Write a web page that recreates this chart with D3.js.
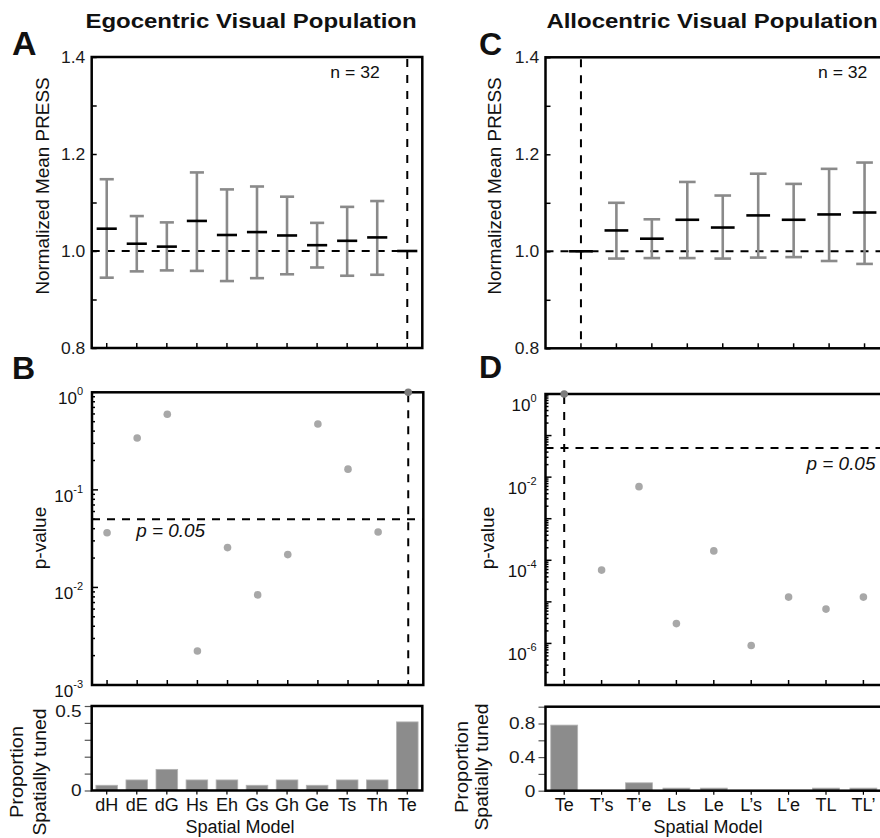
<!DOCTYPE html>
<html><head><meta charset="utf-8">
<script src="https://cdn.jsdelivr.net/npm/d3@7"></script>
<style>body{margin:0;background:#fff}</style>
</head><body>
<svg id="c" width="880" height="838" style="display:block"></svg>
<script>
// ---------- data ----------
const egoModels = ["dH","dE","dG","Hs","Eh","Gs","Gh","Ge","Ts","Th","Te"];
const egoMean = [1.046,1.015,1.009,1.062,1.033,1.039,1.032,1.012,1.021,1.028,1.000];
const egoLow  = [0.945,0.958,0.960,0.959,0.938,0.944,0.952,0.966,0.949,0.951,null];
const egoHigh = [1.148,1.072,1.059,1.162,1.127,1.133,1.112,1.058,1.091,1.103,null];
const egoP    = [0.0364,0.34,0.595,0.00223,0.0256,0.00838,0.0217,0.473,0.163,0.037,1.0];
const egoProp = [0.031,0.0625,0.125,0.0625,0.0625,0.031,0.0625,0.031,0.0625,0.0625,0.406];

const alloModels = ["Te","T\u2019s","T\u2019e","Ls","Le","L\u2019s","L\u2019e","TL","TL\u2019"];
const alloMean = [1.000,1.043,1.026,1.065,1.049,1.074,1.065,1.076,1.080];
const alloLow  = [null,0.985,0.986,0.986,0.985,0.987,0.988,0.980,0.974];
const alloHigh = [null,1.100,1.066,1.143,1.115,1.160,1.139,1.170,1.183];
const alloP    = [1.0,5.8e-5,5.9e-3,3.0e-6,1.68e-4,8.9e-7,1.3e-5,6.7e-6,1.3e-5];
const alloProp = [0.781,0,0.094,0.031,0.031,0,0,0.031,0.031];

const refModel = "Te";
const nCells = 32;
const pThreshold = 0.05;
const pressTicks = [0.8,0.9,1.0,1.1,1.2,1.3,1.4];
const pressLabels = [0.8,1.0,1.2,1.4];
const egoPLabels = [1e-3,1e-2,1e-1,1];
const alloPLabels = [1e-6,1e-4,1e-2,1];
const egoPropTicks = [0,0.1,0.2,0.3,0.4,0.5];
const egoPropLabels = [0,0.5];
const alloPropTicks = [0,0.2,0.4,0.6,0.8,1.0];
const alloPropLabels = [0,0.4,0.8];

// ---------- helpers ----------
const FONT = '"Liberation Sans", Arial, Helvetica, sans-serif';
const svg = d3.select("#c");
const GRAY = "#8a8a8a";

function txt(g, x, y, s, o = {}) {
  return g.append("text")
    .attr("transform", `translate(${x},${y}) rotate(${o.rot||0}) scale(${o.sx||1},1)`)
    .attr("text-anchor", o.anchor || "start")
    .style("font-family", FONT)
    .style("font-size", (o.size||16) + "px")
    .style("font-weight", o.weight || "normal")
    .style("font-style", o.italic ? "italic" : "normal")
    .attr("fill", o.fill || "#111")
    .text(s);
}
function frame(g, x, y) {
  const [x0, x1] = x.range(), [yb, yt] = y.range();
  g.append("rect").attr("x", x0).attr("y", yt).attr("width", x1 - x0).attr("height", yb - yt)
    .attr("fill", "none").attr("stroke", "#000").attr("stroke-width", 2.5);
}
function xTicks(g, x, y, n, len) {
  const yb = y.range()[0];
  g.selectAll(null).data(d3.range(1, n + 1)).join("line")
    .attr("x1", d => x(d)).attr("x2", d => x(d))
    .attr("y1", yb).attr("y2", yb - len)
    .attr("stroke", "#000").attr("stroke-width", 1.5);
}
function hDash(g, x, y, v) {
  g.append("line").attr("x1", x.range()[0]).attr("x2", x.range()[1])
    .attr("y1", y(v)).attr("y2", y(v))
    .attr("stroke", "#000").attr("stroke-width", 2).attr("stroke-dasharray", "8,7");
}
function vDash(g, x, y, i) {
  g.append("line").attr("x1", x(i)).attr("x2", x(i))
    .attr("y1", y.range()[1] + 2).attr("y2", y.range()[0])
    .attr("stroke", "#000").attr("stroke-width", 2).attr("stroke-dasharray", "8,8");
}
function styleAxisText(sel, size, sx) {
  sel.selectAll("text").style("font-family", FONT).style("font-size", size + "px")
    .attr("fill", "#1a1a1a").attr("transform", `scale(${sx},1)`);
}

// ---------- PRESS panels ----------
function pressPanel(models, mean, low, high, x, y, nRight) {
  const g = svg.append("g");
  const step = x(2) - x(1);
  const ri = models.indexOf(refModel) + 1;
  hDash(g, x, y, 1.0);
  vDash(g, x, y, ri);
  const idx = d3.range(models.length).filter(i => low[i] !== null);
  g.selectAll(null).data(idx).join("line")
    .attr("x1", i => x(i + 1)).attr("x2", i => x(i + 1))
    .attr("y1", i => y(low[i])).attr("y2", i => y(high[i]))
    .attr("stroke", GRAY).attr("stroke-width", 2.6);
  [low, high].forEach(arr => {
    g.selectAll(null).data(idx).join("line")
      .attr("x1", i => x(i + 1) - step * 0.235).attr("x2", i => x(i + 1) + step * 0.235)
      .attr("y1", i => y(arr[i])).attr("y2", i => y(arr[i]))
      .attr("stroke", GRAY).attr("stroke-width", 2.6);
  });
  g.selectAll(null).data(mean).join("line")
    .attr("x1", (d, i) => x(i + 1) - step * 0.335).attr("x2", (d, i) => x(i + 1) + step * 0.335)
    .attr("y1", d => y(d)).attr("y2", d => y(d))
    .attr("stroke", "#000").attr("stroke-width", 2.6);
  const ax = g.append("g").attr("transform", `translate(${x.range()[0]},0)`)
    .call(d3.axisLeft(y).tickValues(pressTicks).tickSize(-5).tickPadding(6)
      .tickFormat(d => pressLabels.includes(d) ? d3.format(".1f")(d) : ""));
  ax.select(".domain").remove();
  ax.selectAll("line").attr("stroke-width", 1.5);
  styleAxisText(ax, 16.5, 1.06);
  xTicks(g, x, y, models.length, 5);
  frame(g, x, y);
  txt(g, nRight, y(1.4) + 21, `n = ${nCells}`, { anchor: "end", size: 16, sx: 1.1 });
  return g;
}

// ---------- p-value panels ----------
function pPanel(models, p, x, y, labels, labelDy, pLabel) {
  const g = svg.append("g");
  const ri = models.indexOf(refModel) + 1;
  hDash(g, x, y, pThreshold);
  vDash(g, x, y, ri);
  const x0 = x.range()[0];
  const ticks = y.ticks();
  g.selectAll(null).data(ticks).join("line")
    .attr("x1", x0).attr("x2", d => x0 + (Math.abs(Math.log10(d) - Math.round(Math.log10(d))) < 1e-9 ? 6 : 3))
    .attr("y1", d => y(d)).attr("y2", d => y(d))
    .attr("stroke", "#000").attr("stroke-width", 1.5);
  labels.forEach(v => {
    const t = txt(g, x0 - 9, y(v) + labelDy, "", { anchor: "end", size: 17, sx: 1.0 });
    t.append("tspan").text("10");
    t.append("tspan").attr("dy", -9).style("font-size", "11px").text(String(Math.round(Math.log10(v))));
  });
  xTicks(g, x, y, models.length, 5);
  frame(g, x, y);
  g.selectAll(null).data(p).join("circle")
    .attr("cx", (d, i) => x(i + 1)).attr("cy", d => y(d)).attr("r", 3.8)
    .attr("fill", (d, i) => models[i] === refModel ? "#7c7c7c" : "#a8a8a8");
  pLabel(g);
  return g;
}

// ---------- proportion panels ----------
function propPanel(models, prop, x, y, ticks, labels, fmt) {
  const g = svg.append("g");
  const step = x(2) - x(1);
  const bw = step * 0.72;
  g.selectAll(null).data(prop).join("rect")
    .attr("x", (d, i) => x(i + 1) - bw / 2).attr("width", bw)
    .attr("y", d => y(d)).attr("height", d => y(0) - y(d))
    .attr("fill", "#8c8c8c").attr("stroke", "#b4b4b4").attr("stroke-width", 0.8);
  const top = y.domain()[1];
  const ax = g.append("g").attr("transform", `translate(${x.range()[0]},0)`)
    .call(d3.axisLeft(y).tickValues(ticks).tickSize(7).tickPadding(2)
      .tickFormat(d => labels.includes(d) ? fmt(d) : ""));
  ax.select(".domain").remove();
  ax.selectAll("line").attr("stroke", "#555").attr("stroke-width", 1.2);
  styleAxisText(ax, 17, 1.12);
  ax.selectAll(".tick").filter(d => d === top).select("text").attr("y", 5);
  const yb = y.range()[0];
  g.selectAll(null).data(d3.range(1, models.length + 1)).join("line")
    .attr("x1", d => x(d)).attr("x2", d => x(d)).attr("y1", yb).attr("y2", yb + 4)
    .attr("stroke", "#000").attr("stroke-width", 1.2);
  g.selectAll(null).data(models).join("text")
    .attr("x", (d, i) => x(i + 1)).attr("y", 811)
    .attr("text-anchor", "middle").style("font-family", FONT).style("font-size", "18px")
    .attr("fill", "#111").text(d => d);
  frame(g, x, y);
  return g;
}

// ---------- scales ----------
const xA = d3.scaleLinear().domain([0.5, 11.5]).range([91.7, 422.3]);
const yA = d3.scaleLinear().domain([0.8, 1.4]).range([348, 57]);
const xC = d3.scaleLinear().domain([0, 10]).range([545.5, 900]);
const yC = d3.scaleLinear().domain([0.8, 1.4]).range([348.3, 57.3]);
const xB = d3.scaleLinear().domain([0.5, 11.5]).range([92, 423.3]);
const yB = d3.scaleLog().domain([1e-3, 1]).range([685, 392.3]);
const xD = d3.scaleLinear().domain([0.5, 10]).range([545.5, 900.8]);
const yD = d3.scaleLog().domain([1e-7, 1]).range([685, 394]);
const xE = d3.scaleLinear().domain([0.5, 11.5]).range([91.7, 422.3]);
const yE = d3.scaleLinear().domain([0, 0.5]).range([790.5, 706]);
const xF = d3.scaleLinear().domain([0.5, 10]).range([545.5, 900.8]);
const yF = d3.scaleLinear().domain([0, 1]).range([790.7, 706.7]);

// ---------- draw ----------
pressPanel(egoModels, egoMean, egoLow, egoHigh, xA, yA, xA(10) + 2.5);
pressPanel(alloModels, alloMean, alloLow, alloHigh, xC, yC, xC(9) + 2.8);

pPanel(egoModels, egoP, xB, yB, egoPLabels, 12, g =>
  txt(g, xB(2) - 1, yB(pThreshold) + 18, `p = ${pThreshold.toFixed(2)}`, { size: 17.5, sx: 1.08, italic: true }));
pPanel(alloModels, alloP, xD, yD, alloPLabels, 17, g =>
  txt(g, xD(9) + 12, yD(pThreshold) + 22, `p = ${pThreshold.toFixed(2)}`, { anchor: "end", size: 17.5, sx: 1.08, italic: true }));

propPanel(egoModels, egoProp, xE, yE, egoPropTicks, egoPropLabels, d => d === 0 ? "0" : d3.format(".1f")(d));
propPanel(alloModels, alloProp, xF, yF, alloPropTicks, alloPropLabels, d => d === 0 ? "0" : d3.format(".1f")(d));

// titles & letters
const T = svg.append("g");
txt(T, 251, 28, "Egocentric Visual Population", { anchor: "middle", size: 20.5, sx: 1.17, weight: "bold" });
txt(T, 712, 28, "Allocentric Visual Population", { anchor: "middle", size: 20.5, sx: 1.17, weight: "bold" });
txt(T, 12, 55, "A", { size: 34, weight: "bold" });
txt(T, 479, 55, "C", { size: 32, weight: "bold" });
txt(T, 12, 379, "B", { size: 32, weight: "bold" });
txt(T, 479, 378, "D", { size: 32, weight: "bold" });

// axis titles
txt(T, 49, 186, "Normalized Mean PRESS", { anchor: "middle", rot: -90, size: 18, sx: 1.05 });
txt(T, 501, 186, "Normalized Mean PRESS", { anchor: "middle", rot: -90, size: 18, sx: 1.05 });
txt(T, 46, 538, "p-value", { anchor: "middle", rot: -90, size: 18, sx: 1.06 });
txt(T, 494, 538, "p-value", { anchor: "middle", rot: -90, size: 18, sx: 1.06 });
txt(T, 23, 772, "Proportion", { anchor: "middle", rot: -90, size: 19, sx: 1.05 });
txt(T, 46, 772, "Spatially tuned", { anchor: "middle", rot: -90, size: 19, sx: 1.02 });
txt(T, 467.5, 767, "Proportion", { anchor: "middle", rot: -90, size: 19, sx: 1.05 });
txt(T, 487.5, 767, "Spatially tuned", { anchor: "middle", rot: -90, size: 19, sx: 1.02 });
txt(T, 240, 832.5, "Spatial Model", { anchor: "middle", size: 18 });
txt(T, 708, 832.5, "Spatial Model", { anchor: "middle", size: 18 });
</script>
</body></html>
